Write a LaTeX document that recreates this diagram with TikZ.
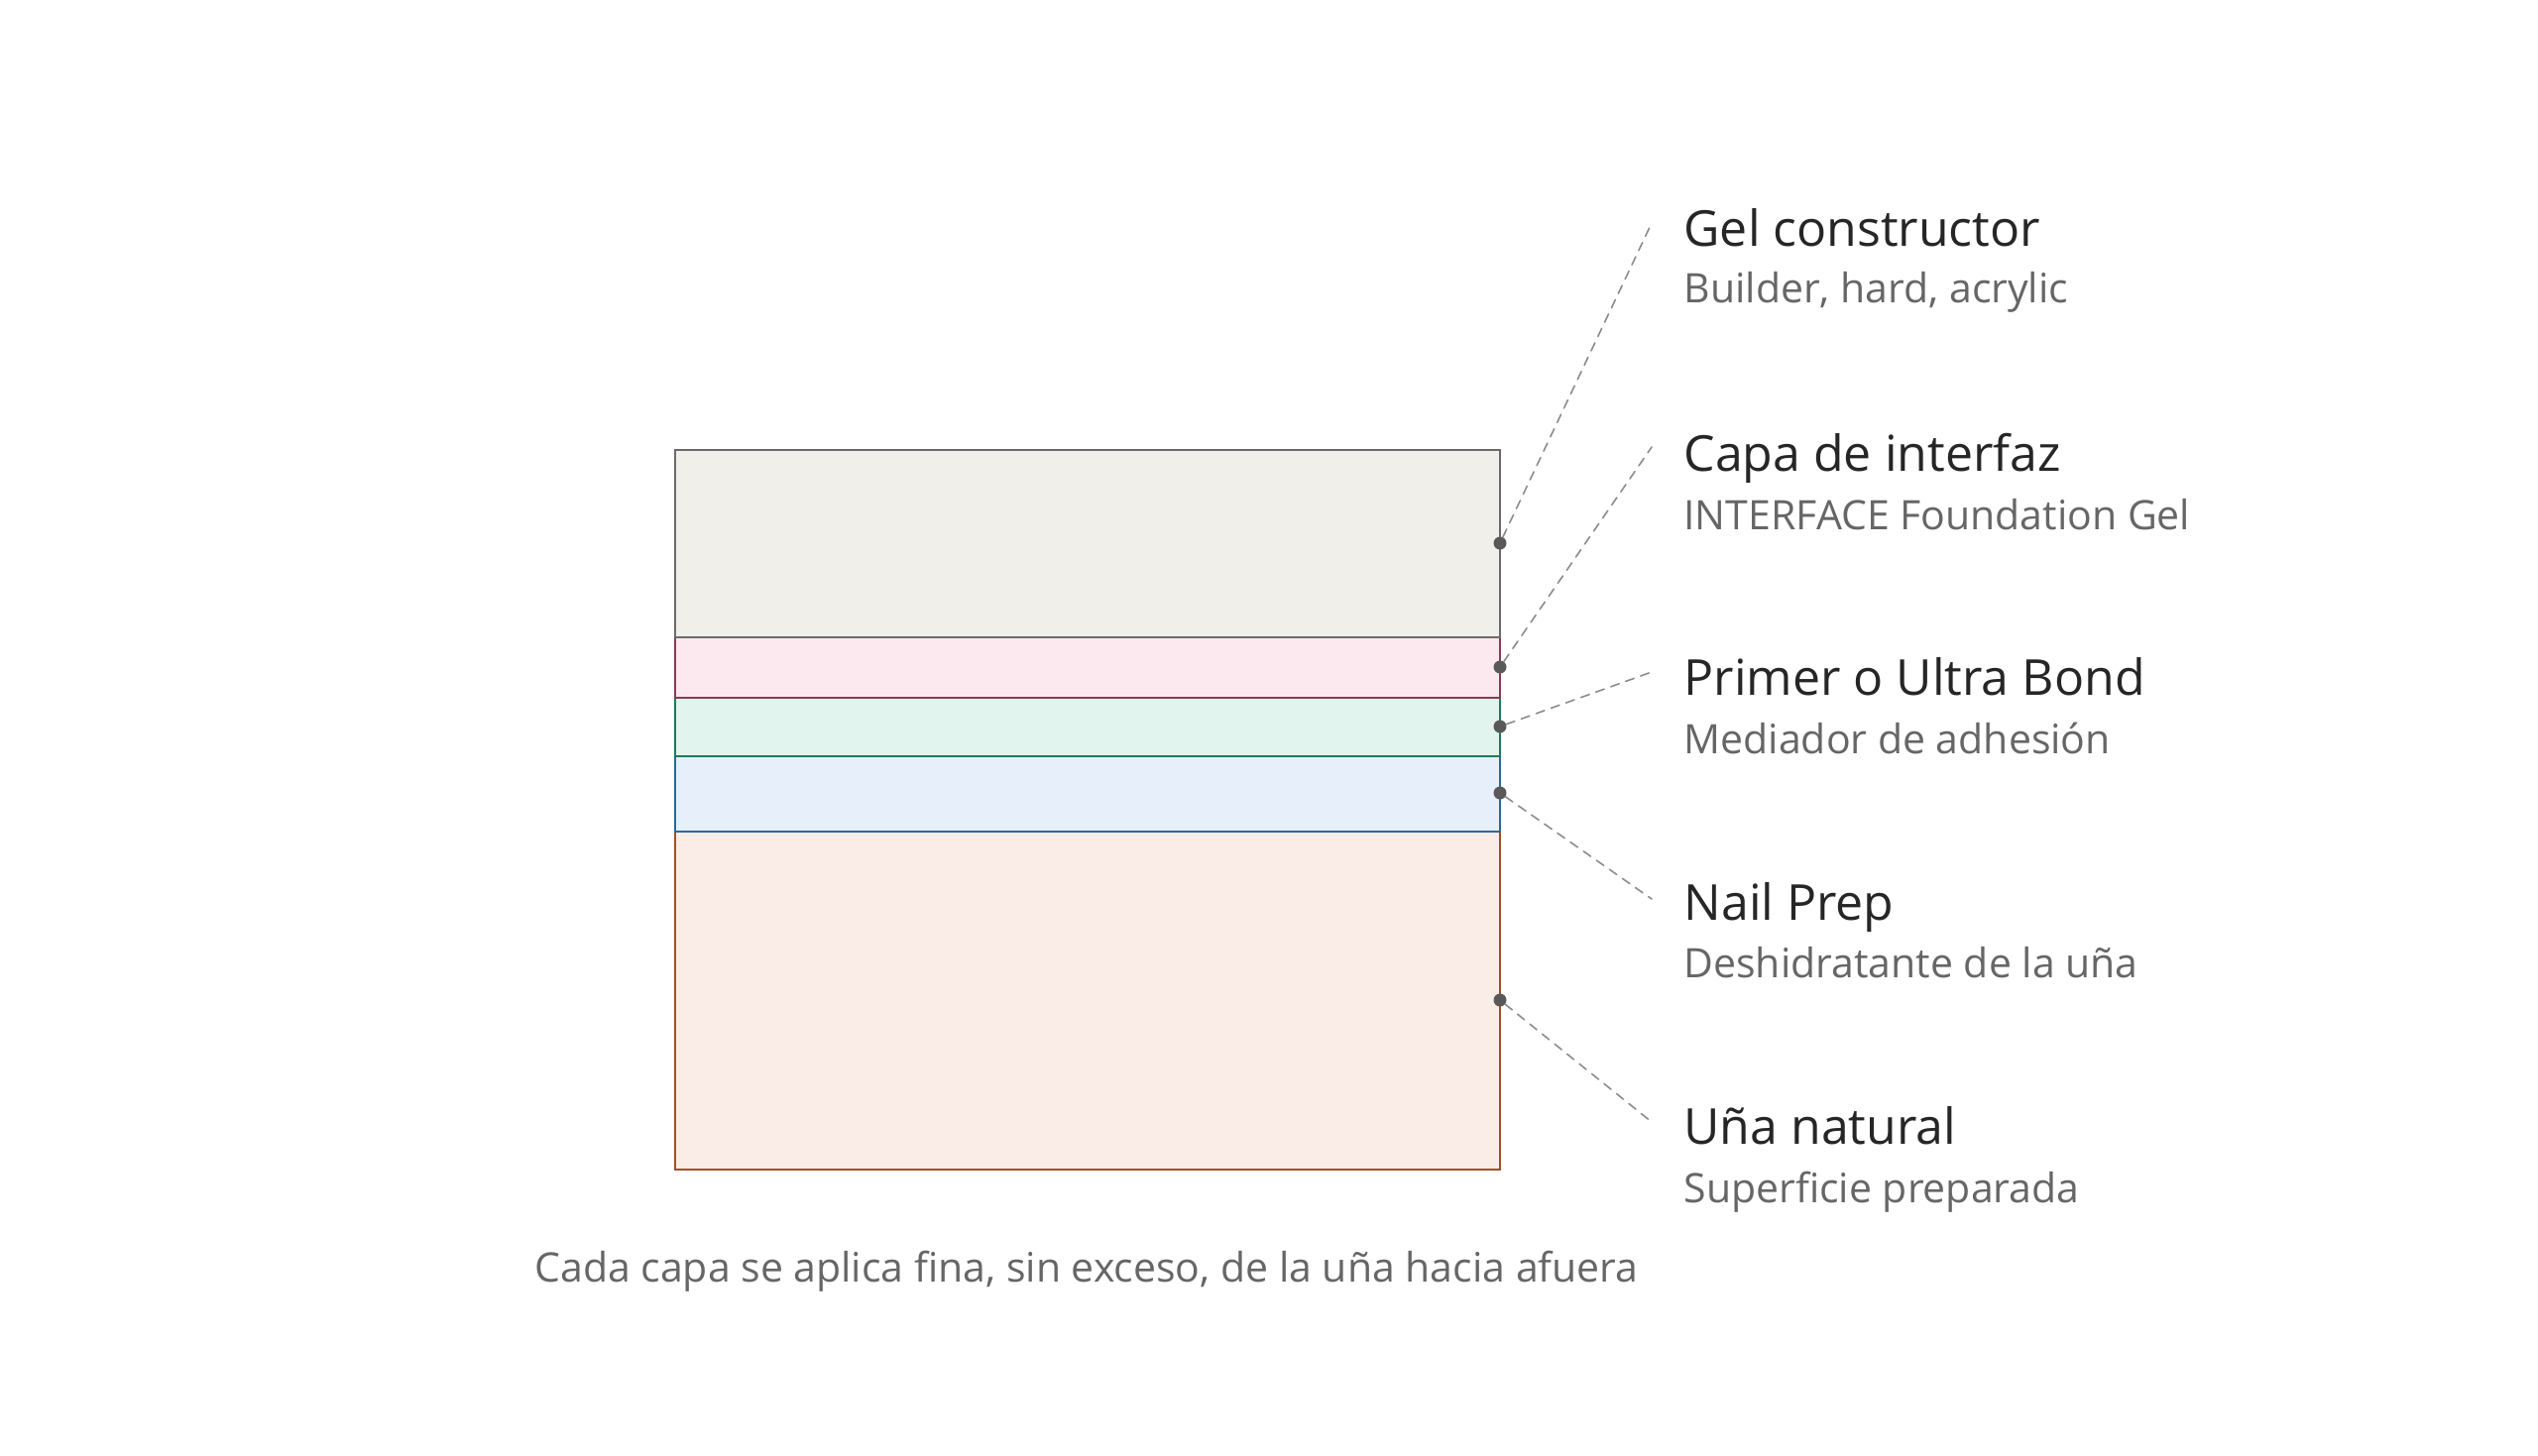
\documentclass[tikz,border=0pt]{standalone}
\usepackage{fontspec}
\setmainfont{Open Sans}
\begin{document}
\begin{tikzpicture}
			[x=1pt,y=-1pt,line cap=round,
			%Styles
			layer/.style={line width=2pt},
			dot/.style={circle,inner sep=0pt,minimum size=13pt,fill=black!65},
			leader/.style={black!45,line width=1.6pt,dash pattern=on 9pt off 7pt},
			title text/.style={anchor=base west,text=black!85,font=\fontsize{50}{60}\selectfont},
			sub text/.style={anchor=base west,text=black!60,font=\fontsize{41}{50}\selectfont}
			]
			\useasboundingbox (0,0) rectangle (2560,1468);
			
			%Colors
			\definecolor{gelfill}{HTML}{F0EFEA}\definecolor{geldraw}{HTML}{6A6A6A}
			\definecolor{intfill}{HTML}{FBE9EF}\definecolor{intdraw}{HTML}{8A3A55}
			\definecolor{primfill}{HTML}{E2F4EE}\definecolor{primdraw}{HTML}{1E7A5A}
			\definecolor{prepfill}{HTML}{E6EFFA}\definecolor{prepdraw}{HTML}{2A6A9A}
			\definecolor{nailfill}{HTML}{FAECE6}\definecolor{naildraw}{HTML}{A0502A}
			
			%The layers
			\draw[layer,fill=nailfill,draw=naildraw] (681,839) rectangle (1513,1180);
			\draw[layer,fill=prepfill,draw=prepdraw] (681,763) rectangle (1513,839);
			\draw[layer,fill=primfill,draw=primdraw] (681,704) rectangle (1513,763);
			\draw[layer,fill=intfill,draw=intdraw] (681,643) rectangle (1513,704);
			\draw[layer,fill=gelfill,draw=geldraw] (681,454) rectangle (1513,643);
			
			%Dots and leaders
			\node[dot] (gel) at (1513,548) {};
			\node[dot] (int) at (1513,673) {};
			\node[dot] (prim) at (1513,733) {};
			\node[dot] (prep) at (1513,800) {};
			\node[dot] (nail) at (1513,1009) {};
			\coordinate (gelL) at (1666,225);
			\coordinate (intL) at (1666,451);
			\coordinate (primL) at (1666,678);
			\coordinate (prepL) at (1666,907);
			\coordinate (nailL) at (1666,1132);
			\foreach \n in {gel,int,prim,prep,nail}
				\draw[leader] (\n) -- (\n L);
			
			%Labels
			\node[title text] (gelT) at (1695,248) {Gel constructor};
			\node[sub text] (gelS) at (1695,305) {Builder, hard, acrylic};
			\node[title text] (intT) at (1695,475) {Capa de interfaz};
			\node[sub text] (intS) at (1695,534) {INTERFACE Foundation Gel};
			\node[title text] (primT) at (1695,701) {Primer o Ultra Bond};
			\node[sub text] (primS) at (1695,760) {Mediador de adhesión};
			\node[title text] (prepT) at (1695,928) {Nail Prep};
			\node[sub text] (prepS) at (1695,986) {Deshidratante de la uña};
			\node[title text] (nailT) at (1695,1154) {Uña natural};
			\node[sub text] (nailS) at (1695,1213) {Superficie preparada};
			
			\node[sub text,anchor=base] (caption) at (1096,1293) {Cada capa se aplica fina, sin exceso, de la uña hacia afuera};
		\end{tikzpicture}
\end{document}
